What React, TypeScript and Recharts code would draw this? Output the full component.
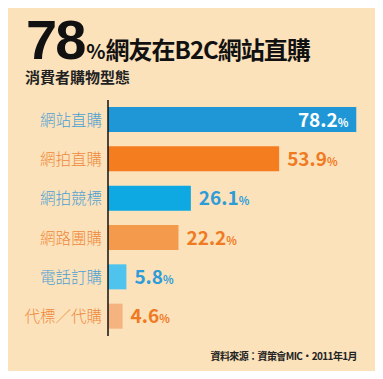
import { BarChart, Bar, XAxis, YAxis, Cell, LabelList } from 'recharts';

const categories = ['網站直購', '網拍直購', '網拍競標', '網路團購', '電話訂購', '代標／代購'];
const values = [78.2, 53.9, 26.1, 22.2, 5.8, 4.6];
const barColors = ['#1F97D7', '#F47D1F', '#0EA9E2', '#F39A4C', '#4EC3EE', '#F5B47F'];
const labelColors = ['#4BA0D3', '#F0893A', '#4BA0D3', '#F0893A', '#4BA0D3', '#F0893A'];
const valueColors = ['#FFFFFF', '#F07A22', '#2E9CD8', '#F07A22', '#2E9CD8', '#F07A22'];

const data = categories.map((name, i) => ({ name, value: values[i] }));

const CJK = '"Noto Sans CJK TC", "Noto Sans", sans-serif';

const CategoryTick = ({ x, y, payload, index }: any) => (
  <text
    x={x + 2}
    y={y}
    dy={6}
    textAnchor="end"
    fontSize={15.5}
    fontFamily={CJK}
    fontWeight={300}
    fill={labelColors[index]}
  >
    {payload.value}
  </text>
);

const ValueLabel = ({ x, y, width, height, value, index }: any) => {
  const inside = index === 0;
  const tx = inside ? x + width - 8 : x + width + 8;
  return (
    <text
      x={tx}
      y={y + height / 2}
      dy={7}
      textAnchor={inside ? 'end' : 'start'}
      fontFamily={CJK}
      fontWeight={700}
      fill={valueColors[index]}
    >
      <tspan fontSize={19}>{value}</tspan>
      <tspan fontSize={11}>%</tspan>
    </text>
  );
};

export default function App() {
  return (
    <div
      style={{
        position: 'relative',
        width: 383,
        height: 379,
        margin: -8,
        background: '#FBE2BB',
        overflow: 'hidden',
        fontFamily: CJK,
      }}
    >
      <div style={{ position: 'absolute', right: 0, top: 0, width: 3, height: 379, background: '#FDEEDA' }} />
      <div style={{ position: 'absolute', left: 26, top: 17, whiteSpace: 'nowrap', color: '#111', lineHeight: '46px', height: 46 }}>
        <span
          style={{
            display: 'inline-block',
            height: 46,
            lineHeight: '46px',
            fontSize: 56,
            fontWeight: 700,
            fontFamily: '"Liberation Sans Narrow", "Liberation Sans", sans-serif',
            letterSpacing: -2,
          }}
        >
          78
        </span>
        <span style={{ fontSize: 20, fontWeight: 700, marginLeft: 2 }}>%</span>
        <span style={{ fontSize: 24, fontWeight: 700, letterSpacing: -1 }}>網友在B2C網站直購</span>
      </div>
      <div
        style={{
          position: 'absolute',
          left: 25,
          top: 68,
          fontSize: 15,
          fontWeight: 700,
          color: '#222',
          whiteSpace: 'nowrap',
          lineHeight: '18px',
        }}
      >
        消費者購物型態
      </div>
      <div style={{ position: 'absolute', left: 0, top: 100 }}>
        <BarChart
          width={383}
          height={236}
          data={data}
          layout="vertical"
          margin={{ top: 0, right: 21, bottom: 0, left: 0 }}
          barCategoryGap={14}
        >
          <XAxis type="number" domain={[0, 80]} hide />
          <YAxis
            type="category"
            dataKey="name"
            width={108}
            axisLine={{ stroke: '#111', strokeWidth: 1.5 }}
            tickLine={false}
            tick={<CategoryTick />}
            interval={0}
          />
          <Bar dataKey="value" barSize={25} isAnimationActive={false}>
            {data.map((d, i) => (
              <Cell key={d.name} fill={barColors[i]} />
            ))}
            <LabelList dataKey="value" content={<ValueLabel />} />
          </Bar>
        </BarChart>
      </div>
      <div
        style={{
          position: 'absolute',
          right: 26,
          top: 348,
          fontSize: 10,
          fontWeight: 700,
          letterSpacing: -0.6,
          color: '#222',
          whiteSpace: 'nowrap',
        }}
      >
        資料來源：資策會MIC‧2011年1月
      </div>
    </div>
  );
}
